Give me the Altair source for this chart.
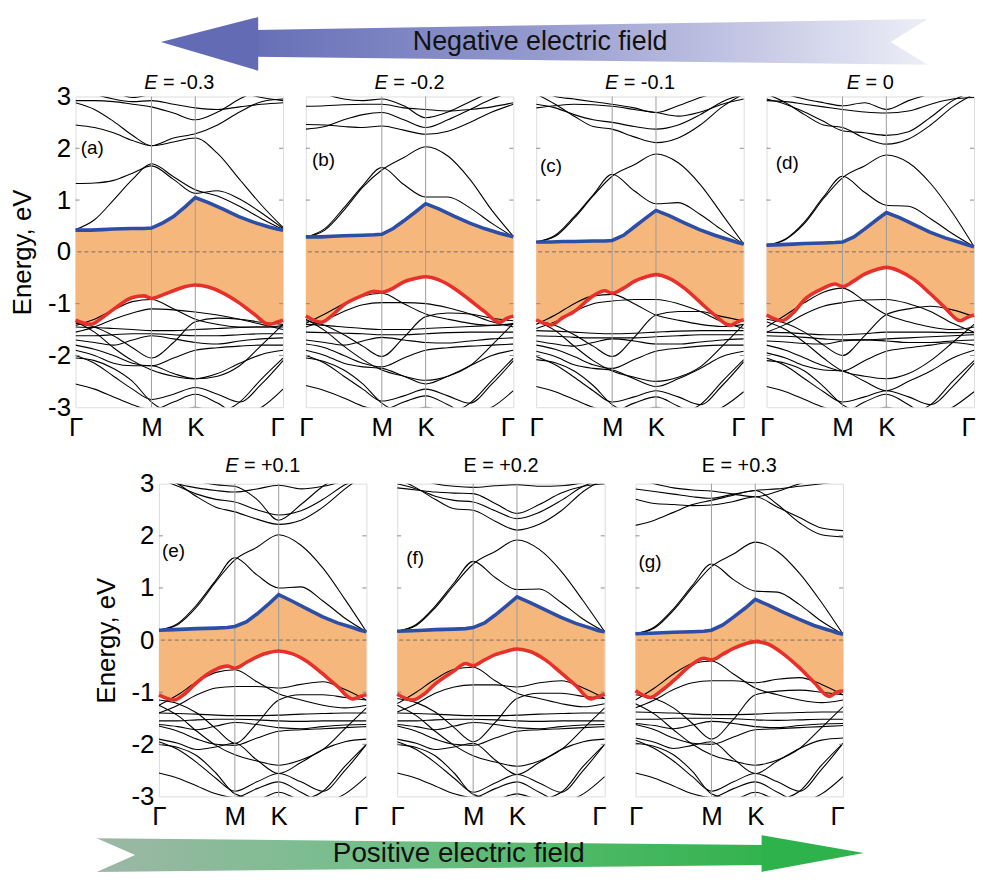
import altair as alt
import pandas as pd

FONT = "Liberation Sans"
ORANGE = "#F6B77D"
BLUE = "#2D4EA6"
RED = "#E8302A"

# k-path: Gamma - M - K - Gamma (hexagonal BZ lengths)
K_BAND = [0.0, 0.25, 0.5, 0.75, 1.0, 1.29, 1.577, 1.87, 2.16, 2.45, 2.732]
K_EDGE = [0.0, 0.2, 0.35, 0.5, 0.75, 0.9, 1.0, 1.15, 1.29, 1.45, 1.577, 1.75, 1.95, 2.15, 2.35, 2.55, 2.65, 2.732]
SYM_K = [0.0, 1.0, 1.577, 2.732]
GRID_K = [1.0, 1.577]
TICK_E = [-2, -1, 1, 2]
Y_TICKS = [-3, -2, -1, 0, 1, 2, 3]

panel_tags = ["(a)", "(b)", "(c)", "(d)", "(e)", "(f)", "(g)"]
field_values = ["-0.3", "-0.2", "-0.1", "0", "+0.1", "+0.2", "+0.3"]
italic_symbol = [True, True, True, True, True, False, False]
tag_k = [0.07, 0.08, 0.05, 0.12, 0.04, 0.12, 0.04]
tag_E = [2.0, 1.77, 1.66, 1.72, 1.70, 1.57, 1.50]

# conduction-band bottom (blue) and valence-band top (red) on K_EDGE
cbm_a = [0.42, 0.42, 0.43, 0.44, 0.45, 0.45, 0.46, 0.56, 0.68, 0.88, 1.05, 0.95, 0.82, 0.68, 0.57, 0.48, 0.44, 0.42]
vbm_a = [-1.32, -1.40, -1.27, -1.11, -0.88, -0.85, -0.90, -0.83, -0.75, -0.67, -0.64, -0.68, -0.80, -0.98, -1.20, -1.40, -1.36, -1.32]
cbm_b = [0.29, 0.29, 0.30, 0.31, 0.32, 0.33, 0.34, 0.45, 0.60, 0.78, 0.93, 0.83, 0.69, 0.56, 0.45, 0.36, 0.32, 0.29]
vbm_b = [-1.24, -1.36, -1.22, -1.02, -0.84, -0.76, -0.78, -0.70, -0.58, -0.51, -0.48, -0.54, -0.70, -0.92, -1.15, -1.36, -1.28, -1.24]
cbm_c = [0.19, 0.19, 0.20, 0.20, 0.21, 0.21, 0.22, 0.32, 0.48, 0.66, 0.80, 0.70, 0.56, 0.43, 0.32, 0.23, 0.18, 0.15]
vbm_c = [-1.31, -1.41, -1.27, -1.15, -0.85, -0.75, -0.80, -0.70, -0.57, -0.48, -0.44, -0.51, -0.70, -0.96, -1.22, -1.42, -1.35, -1.31]
cbm_d = [0.13, 0.14, 0.15, 0.16, 0.17, 0.18, 0.19, 0.29, 0.44, 0.62, 0.76, 0.66, 0.52, 0.38, 0.27, 0.18, 0.13, 0.10]
vbm_d = [-1.22, -1.33, -1.18, -0.92, -0.70, -0.62, -0.67, -0.56, -0.43, -0.34, -0.30, -0.37, -0.54, -0.80, -1.08, -1.33, -1.26, -1.22]
cbm_e = [0.19, 0.20, 0.21, 0.22, 0.23, 0.24, 0.26, 0.35, 0.50, 0.70, 0.87, 0.75, 0.60, 0.45, 0.33, 0.24, 0.19, 0.16]
vbm_e = [-1.05, -1.15, -1.02, -0.81, -0.56, -0.50, -0.54, -0.43, -0.32, -0.24, -0.21, -0.26, -0.41, -0.64, -0.89, -1.13, -1.08, -1.05]
cbm_f = [0.17, 0.18, 0.19, 0.20, 0.21, 0.22, 0.24, 0.33, 0.48, 0.67, 0.83, 0.72, 0.58, 0.44, 0.32, 0.23, 0.18, 0.16]
vbm_f = [-1.04, -1.15, -1.04, -0.84, -0.59, -0.45, -0.49, -0.38, -0.28, -0.21, -0.17, -0.22, -0.38, -0.62, -0.87, -1.13, -1.08, -1.04]
cbm_g = [0.12, 0.13, 0.14, 0.15, 0.16, 0.17, 0.19, 0.29, 0.44, 0.62, 0.78, 0.67, 0.53, 0.40, 0.28, 0.19, 0.14, 0.11]
vbm_g = [-0.97, -1.10, -0.96, -0.78, -0.46, -0.35, -0.38, -0.27, -0.16, -0.07, -0.03, -0.08, -0.27, -0.52, -0.81, -1.08, -1.00, -0.97]

# other bands (black) on K_BAND
bands_a = [
    [0.43, 0.62, 1.00, 1.40, 1.70, 1.45, 1.20, 1.08, 0.88, 0.64, 0.43],
    [1.32, 1.33, 1.38, 1.52, 1.66, 1.40, 1.13, 1.18, 1.02, 0.75, 0.45],
    [2.45, 2.40, 2.30, 2.15, 2.05, 2.12, 2.20, 1.90, 1.40, 0.90, 0.47],
    [2.88, 2.75, 2.52, 2.25, 2.05, 2.20, 2.28, 2.45, 2.70, 2.90, 2.95],
    [2.92, 2.92, 2.90, 2.85, 2.80, 2.68, 2.55, 2.70, 2.95, 3.15, 3.30],
    [3.20, 3.05, 2.95, 2.90, 2.92, 2.85, 2.78, 2.75, 2.80, 2.85, 2.88],
    [3.50, 3.30, 3.10, 2.98, 3.05, 3.20, 3.40, 3.30, 3.10, 2.98, 2.92],
    [-1.42, -1.30, -1.12, -0.96, -0.92, -1.10, -1.30, -1.40, -1.45, -1.45, -1.42],
    [-1.55, -1.45, -1.30, -1.18, -1.10, -1.12, -1.16, -1.22, -1.30, -1.40, -1.50],
    [-1.38, -1.45, -1.62, -1.85, -2.05, -1.75, -1.35, -1.28, -1.30, -1.36, -1.40],
    [-1.45, -1.46, -1.48, -1.50, -1.52, -1.52, -1.50, -1.48, -1.46, -1.45, -1.45],
    [-1.62, -1.62, -1.60, -1.58, -1.58, -1.60, -1.62, -1.62, -1.60, -1.58, -1.58],
    [-1.70, -1.75, -1.80, -1.70, -1.62, -1.68, -1.75, -1.78, -1.72, -1.68, -1.66],
    [-1.80, -1.88, -2.00, -2.15, -2.20, -2.05, -1.90, -1.85, -1.82, -1.80, -1.80],
    [-1.90, -2.00, -2.15, -2.20, -2.20, -2.35, -2.45, -2.35, -2.15, -1.98, -1.90],
    [-2.00, -2.15, -2.40, -2.65, -2.85, -2.75, -2.62, -2.75, -2.90, -2.55, -2.10],
    [-2.05, -2.10, -2.25, -2.50, -2.90, -3.10, -3.00, -3.10, -2.90, -2.45, -2.05],
    [-1.35, -1.55, -1.85, -2.10, -2.28, -2.40, -2.45, -2.40, -2.20, -1.80, -1.40],
    [-2.55, -2.65, -2.80, -2.95, -3.05, -2.90, -2.75, -2.92, -3.15, -3.00, -2.65],
]
bands_b = [
    [0.29, 0.45, 0.85, 1.28, 1.63, 1.30, 1.06, 1.06, 0.85, 0.55, 0.29],
    [0.29, 0.42, 0.80, 1.25, 1.58, 1.82, 2.03, 1.85, 1.40, 0.80, 0.30],
    [2.46, 2.45, 2.42, 2.40, 2.43, 2.35, 2.27, 2.33, 2.50, 2.70, 2.85],
    [2.37, 2.42, 2.55, 2.65, 2.69, 2.55, 2.40, 2.55, 2.75, 2.95, 3.10],
    [2.81, 2.82, 2.84, 2.85, 2.85, 2.78, 2.75, 2.72, 2.75, 2.80, 2.88],
    [3.20, 3.05, 2.95, 2.92, 2.95, 2.82, 2.59, 2.70, 2.90, 3.10, 3.30],
    [-1.38, -1.20, -1.00, -0.85, -0.80, -1.00, -1.20, -1.30, -1.38, -1.42, -1.38],
    [-1.45, -1.32, -1.15, -1.02, -0.98, -0.98, -1.00, -1.08, -1.20, -1.35, -1.45],
    [-1.33, -1.42, -1.60, -1.82, -2.02, -1.65, -1.25, -1.18, -1.20, -1.28, -1.33],
    [-1.40, -1.42, -1.45, -1.48, -1.50, -1.50, -1.48, -1.46, -1.44, -1.42, -1.40],
    [-1.55, -1.56, -1.57, -1.58, -1.60, -1.60, -1.58, -1.56, -1.55, -1.55, -1.55],
    [-1.70, -1.75, -1.80, -1.72, -1.65, -1.70, -1.75, -1.76, -1.72, -1.68, -1.66],
    [-1.78, -1.85, -2.00, -2.15, -2.22, -2.05, -1.90, -1.85, -1.82, -1.80, -1.78],
    [-1.90, -2.00, -2.15, -2.22, -2.25, -2.40, -2.55, -2.40, -2.20, -2.00, -1.90],
    [-2.00, -2.15, -2.40, -2.65, -2.88, -2.78, -2.65, -2.78, -2.92, -2.55, -2.10],
    [-2.05, -2.12, -2.28, -2.55, -2.92, -3.10, -3.00, -3.10, -2.92, -2.48, -2.05],
    [-1.30, -1.52, -1.82, -2.08, -2.28, -2.40, -2.48, -2.40, -2.20, -1.80, -1.38],
    [-2.58, -2.68, -2.82, -2.98, -3.05, -2.90, -2.78, -2.95, -3.15, -3.00, -2.68],
]
bands_c = [
    [0.19, 0.32, 0.68, 1.10, 1.50, 1.18, 0.93, 0.95, 0.72, 0.42, 0.15],
    [0.19, 0.30, 0.65, 1.08, 1.46, 1.68, 1.89, 1.72, 1.30, 0.72, 0.15],
    [3.05, 2.85, 2.62, 2.42, 2.37, 2.22, 2.11, 2.20, 2.45, 2.80, 3.05],
    [2.85, 2.78, 2.65, 2.55, 2.50, 2.42, 2.37, 2.45, 2.65, 2.90, 3.05],
    [2.78, 2.82, 2.85, 2.84, 2.81, 2.75, 2.69, 2.62, 2.70, 2.85, 2.95],
    [3.20, 3.00, 2.95, 2.90, 2.85, 2.78, 2.69, 2.82, 2.98, 3.10, 3.20],
    [-1.40, -1.22, -1.00, -0.85, -0.82, -1.00, -1.22, -1.32, -1.40, -1.44, -1.40],
    [-1.48, -1.35, -1.15, -1.00, -0.95, -0.92, -0.92, -1.00, -1.15, -1.35, -1.48],
    [-1.33, -1.42, -1.60, -1.82, -2.02, -1.65, -1.22, -1.15, -1.15, -1.25, -1.33],
    [-1.52, -1.53, -1.55, -1.57, -1.58, -1.57, -1.55, -1.53, -1.52, -1.52, -1.52],
    [-1.62, -1.63, -1.65, -1.66, -1.66, -1.66, -1.64, -1.62, -1.60, -1.60, -1.60],
    [-1.72, -1.78, -1.82, -1.75, -1.68, -1.72, -1.78, -1.78, -1.74, -1.70, -1.68],
    [-1.80, -1.88, -2.02, -2.18, -2.25, -2.08, -1.92, -1.86, -1.82, -1.80, -1.80],
    [-1.92, -2.02, -2.18, -2.25, -2.28, -2.45, -2.60, -2.45, -2.25, -2.02, -1.92],
    [-2.02, -2.18, -2.42, -2.68, -2.90, -2.80, -2.68, -2.80, -2.95, -2.58, -2.12],
    [-2.08, -2.14, -2.30, -2.58, -2.95, -3.10, -3.00, -3.10, -2.95, -2.50, -2.08],
    [-1.33, -1.52, -1.82, -2.10, -2.30, -2.42, -2.50, -2.42, -2.22, -1.82, -1.40],
    [-2.60, -2.70, -2.85, -3.00, -3.08, -2.92, -2.80, -2.98, -3.15, -3.00, -2.70],
]
bands_d = [
    [0.13, 0.25, 0.58, 1.06, 1.46, 1.15, 0.90, 0.88, 0.64, 0.35, 0.10],
    [0.13, 0.24, 0.55, 1.03, 1.43, 1.66, 1.87, 1.72, 1.32, 0.75, 0.10],
    [3.05, 2.88, 2.65, 2.45, 2.40, 2.20, 2.08, 2.18, 2.45, 2.80, 3.05],
    [2.95, 2.85, 2.70, 2.52, 2.34, 2.30, 2.25, 2.32, 2.60, 2.92, 3.10],
    [2.92, 2.90, 2.85, 2.80, 2.75, 2.70, 2.68, 2.72, 2.85, 2.95, 2.98],
    [3.20, 3.05, 2.95, 2.88, 2.82, 2.88, 2.75, 2.92, 3.05, 3.15, 3.20],
    [-1.45, -1.22, -0.98, -0.78, -0.70, -0.95, -1.21, -1.35, -1.45, -1.50, -1.45],
    [-1.55, -1.40, -1.20, -1.05, -0.98, -0.93, -0.92, -1.00, -1.15, -1.38, -1.55],
    [-1.30, -1.38, -1.55, -1.80, -2.00, -1.62, -1.21, -1.10, -1.05, -1.12, -1.25],
    [-1.62, -1.63, -1.65, -1.68, -1.70, -1.70, -1.68, -1.66, -1.64, -1.62, -1.60],
    [-1.72, -1.74, -1.77, -1.78, -1.72, -1.70, -1.72, -1.75, -1.75, -1.72, -1.70],
    [-1.55, -1.56, -1.58, -1.60, -1.60, -1.58, -1.55, -1.55, -1.55, -1.56, -1.56],
    [-1.80, -1.90, -2.05, -2.20, -2.30, -2.10, -1.92, -1.85, -1.80, -1.75, -1.80],
    [-1.95, -2.05, -2.20, -2.28, -2.30, -2.50, -2.68, -2.50, -2.30, -2.05, -1.90],
    [-2.05, -2.20, -2.45, -2.70, -2.90, -2.80, -2.68, -2.80, -2.95, -2.60, -2.15],
    [-2.10, -2.15, -2.30, -2.60, -2.95, -3.10, -3.00, -3.10, -2.95, -2.50, -2.10],
    [-1.35, -1.50, -1.75, -2.05, -2.30, -2.40, -2.45, -2.35, -2.10, -1.75, -1.40],
    [-2.60, -2.70, -2.85, -3.00, -3.10, -2.90, -2.75, -2.95, -3.20, -3.00, -2.70],
]
bands_e = [
    [0.19, 0.32, 0.68, 1.15, 1.58, 1.25, 1.00, 1.02, 0.75, 0.42, 0.16],
    [0.19, 0.30, 0.64, 1.12, 1.54, 1.78, 2.02, 1.82, 1.38, 0.78, 0.16],
    [3.20, 3.00, 2.75, 2.55, 2.46, 2.32, 2.22, 2.30, 2.55, 2.90, 3.20],
    [3.10, 2.95, 2.80, 2.70, 2.65, 2.50, 2.40, 2.48, 2.70, 2.98, 3.15],
    [3.15, 3.00, 2.92, 2.87, 2.84, 2.90, 2.97, 2.90, 2.95, 3.05, 3.10],
    [3.30, 3.15, 3.05, 2.98, 2.95, 2.70, 2.30, 2.60, 2.95, 3.20, 3.40],
    [-1.25, -1.05, -0.80, -0.62, -0.57, -0.80, -1.03, -1.15, -1.25, -1.30, -1.25],
    [-1.40, -1.25, -1.05, -0.92, -0.89, -0.89, -0.92, -0.85, -0.80, -0.95, -1.15],
    [-1.15, -1.22, -1.40, -1.70, -1.98, -1.60, -1.15, -1.05, -1.05, -1.10, -1.15],
    [-1.40, -1.41, -1.42, -1.44, -1.45, -1.45, -1.44, -1.42, -1.41, -1.40, -1.40],
    [-1.55, -1.55, -1.53, -1.52, -1.52, -1.53, -1.55, -1.56, -1.55, -1.55, -1.55],
    [-1.62, -1.66, -1.72, -1.65, -1.58, -1.62, -1.68, -1.70, -1.66, -1.63, -1.62],
    [-1.65, -1.75, -1.90, -2.00, -2.02, -1.88, -1.75, -1.72, -1.70, -1.68, -1.66],
    [-1.90, -1.98, -2.10, -2.05, -1.98, -2.30, -2.56, -2.35, -2.10, -1.95, -1.90],
    [-1.95, -2.10, -2.35, -2.65, -2.90, -2.72, -2.56, -2.72, -2.90, -2.50, -2.00],
    [-2.00, -2.06, -2.22, -2.55, -2.95, -3.05, -2.92, -3.05, -2.90, -2.42, -2.00],
    [-1.25, -1.45, -1.75, -2.02, -2.20, -2.32, -2.40, -2.30, -2.10, -1.70, -1.30],
    [-2.55, -2.65, -2.80, -2.95, -3.02, -2.85, -2.72, -2.92, -3.10, -2.95, -2.62],
]
bands_f = [
    [0.17, 0.30, 0.65, 1.10, 1.51, 1.20, 0.97, 0.98, 0.72, 0.40, 0.16],
    [0.17, 0.28, 0.62, 1.06, 1.46, 1.70, 1.92, 1.74, 1.32, 0.75, 0.16],
    [3.10, 2.92, 2.70, 2.52, 2.49, 2.28, 2.11, 2.22, 2.48, 2.85, 3.10],
    [3.00, 2.90, 2.76, 2.68, 2.65, 2.48, 2.33, 2.45, 2.68, 2.95, 3.10],
    [2.92, 2.88, 2.84, 2.82, 2.81, 2.62, 2.43, 2.60, 2.82, 2.95, 3.00],
    [3.20, 3.10, 3.00, 2.95, 2.93, 2.96, 2.98, 2.95, 2.96, 3.02, 3.10],
    [-1.22, -1.00, -0.75, -0.56, -0.52, -0.78, -1.02, -1.12, -1.22, -1.28, -1.22],
    [-1.38, -1.22, -1.02, -0.90, -0.86, -0.86, -0.90, -0.82, -0.78, -0.92, -1.12],
    [-1.12, -1.20, -1.38, -1.68, -1.95, -1.58, -1.12, -1.02, -1.02, -1.08, -1.12],
    [-1.40, -1.41, -1.42, -1.44, -1.45, -1.45, -1.44, -1.42, -1.41, -1.40, -1.40],
    [-1.55, -1.55, -1.53, -1.52, -1.52, -1.53, -1.55, -1.56, -1.55, -1.55, -1.55],
    [-1.62, -1.66, -1.72, -1.65, -1.58, -1.62, -1.68, -1.70, -1.66, -1.63, -1.62],
    [-1.65, -1.75, -1.90, -2.00, -2.02, -1.88, -1.75, -1.72, -1.70, -1.68, -1.66],
    [-1.90, -1.98, -2.10, -2.05, -1.98, -2.30, -2.58, -2.35, -2.10, -1.95, -1.90],
    [-1.95, -2.10, -2.35, -2.65, -2.92, -2.74, -2.58, -2.74, -2.92, -2.50, -2.00],
    [-2.00, -2.06, -2.22, -2.55, -2.96, -3.05, -2.95, -3.05, -2.92, -2.42, -2.00],
    [-1.25, -1.45, -1.75, -2.02, -2.22, -2.34, -2.42, -2.32, -2.10, -1.70, -1.30],
    [-2.55, -2.65, -2.80, -2.95, -3.02, -2.85, -2.72, -2.92, -3.10, -2.95, -2.62],
]
bands_g = [
    [0.12, 0.25, 0.60, 1.05, 1.46, 1.16, 0.94, 0.92, 0.68, 0.36, 0.11],
    [0.12, 0.23, 0.57, 1.01, 1.41, 1.65, 1.88, 1.70, 1.28, 0.72, 0.11],
    [2.20, 2.30, 2.45, 2.60, 2.68, 2.78, 2.87, 2.60, 2.25, 2.02, 1.98],
    [2.70, 2.62, 2.60, 2.58, 2.59, 2.66, 2.75, 2.55, 2.35, 2.15, 2.10],
    [2.90, 2.85, 2.80, 2.75, 2.72, 2.80, 2.87, 2.90, 2.95, 3.00, 3.05],
    [3.10, 3.00, 2.92, 2.88, 2.86, 2.80, 2.75, 2.85, 3.00, 3.10, 3.15],
    [-1.15, -0.92, -0.65, -0.45, -0.40, -0.65, -0.92, -1.05, -1.15, -1.20, -1.15],
    [-1.30, -1.15, -0.95, -0.82, -0.78, -0.78, -0.82, -0.75, -0.72, -0.85, -1.05],
    [-1.05, -1.12, -1.30, -1.60, -1.90, -1.52, -1.05, -0.98, -0.96, -1.00, -1.05],
    [-1.38, -1.39, -1.40, -1.42, -1.43, -1.43, -1.42, -1.40, -1.39, -1.38, -1.38],
    [-1.52, -1.52, -1.50, -1.50, -1.50, -1.51, -1.53, -1.54, -1.53, -1.52, -1.52],
    [-1.60, -1.64, -1.70, -1.63, -1.56, -1.60, -1.66, -1.68, -1.64, -1.61, -1.60],
    [-1.62, -1.72, -1.88, -1.98, -2.00, -1.86, -1.72, -1.70, -1.68, -1.66, -1.64],
    [-1.88, -1.96, -2.08, -2.02, -1.95, -2.28, -2.56, -2.32, -2.08, -1.92, -1.88],
    [-1.92, -2.08, -2.32, -2.62, -2.90, -2.72, -2.56, -2.72, -2.90, -2.48, -1.98],
    [-1.98, -2.04, -2.20, -2.52, -2.95, -3.05, -2.92, -3.05, -2.90, -2.40, -1.98],
    [-1.22, -1.42, -1.72, -2.00, -2.20, -2.32, -2.40, -2.30, -2.08, -1.68, -1.28],
    [-2.55, -2.65, -2.80, -2.95, -3.02, -2.85, -2.72, -2.92, -3.10, -2.95, -2.62],
]

CBM = [cbm_a, cbm_b, cbm_c, cbm_d, cbm_e, cbm_f, cbm_g]
VBM = [vbm_a, vbm_b, vbm_c, vbm_d, vbm_e, vbm_f, vbm_g]
BANDS = [bands_a, bands_b, bands_c, bands_d, bands_e, bands_f, bands_g]

# decorative arrows, outlines in page pixels: (x list, upper edge, lower edge)
top_head = ([160, 258], [38, 13], [38, 67])
top_body = ([252, 932], [26, 15], [53, 61])
top_notch = ([895, 934], [38, 14], [38, 62])
bot_body = ([95, 772], [843, 850], [877, 870])
bot_head = ([765, 868], [840, 858], [877, 858])
bot_notch = ([93, 134], [842, 860], [878, 860])

CW = {"E": 0.667, " ": 0.278, "=": 0.584, "-": 0.333, "+": 0.584, "0": 0.556,
      ".": 0.278, "1": 0.556, "2": 0.556, "3": 0.556}


def text_w(s, size):
    return sum(CW.get(c, 0.556) for c in s) * size


def panel(i, w, h, first, title_y):
    xs = alt.Scale(domain=[0, 2.732], nice=False, zero=False)
    ys = alt.Scale(domain=[-3, 3], nice=False, zero=False)
    xax = alt.Axis(values=SYM_K,
                   labelExpr="datum.value < 0.5 || datum.value > 2.7 ? 'Γ' : (datum.value < 1.2 ? 'M' : 'K')",
                   ticks=False, tickSize=0, domain=False, grid=False, labelFontSize=26,
                   labelFont=FONT, labelColor="black", labelPadding=7, labelFlush=False,
                   labelOverlap=False,
                   labelOffset={"condition": {"test": "datum.value > 2.7", "value": -6}, "value": 0})
    if first:
        yax = alt.Axis(values=Y_TICKS,
                       labelExpr="datum.value < 0 ? '-' + (-datum.value) : '' + datum.value",
                       ticks=False, tickSize=0, domain=False, grid=False, labelFontSize=26,
                       labelFont=FONT, labelColor="black", labelPadding=5,
                       title="Energy, eV", titleFontSize=26, titleFont=FONT,
                       titleFontWeight="normal", titleColor="black", titlePadding=12)
        Y = lambda f="E:Q": alt.Y(f, scale=ys, axis=yax)
    else:
        Y = lambda f="E:Q": alt.Y(f, scale=ys, axis=None)
    X = lambda: alt.X("k:Q", scale=xs, axis=xax, title=None)

    edge_df = pd.DataFrame({"k": K_EDGE, "E": VBM[i], "E2": CBM[i]})
    blue_df = pd.DataFrame({"k": K_EDGE, "E": CBM[i]})
    red_df = pd.DataFrame({"k": K_EDGE, "E": VBM[i]})
    rows = []
    for j, b in enumerate(BANDS[i]):
        for k, e in zip(K_BAND, b):
            rows.append({"k": k, "E": e, "band": j})
    band_df = pd.DataFrame(rows)

    area = alt.Chart(edge_df).mark_area(color=ORANGE, interpolate="monotone").encode(
        x=X(), y=Y(), y2="E2:Q")
    bands = alt.Chart(band_df).mark_line(color="black", strokeWidth=1.1, interpolate="monotone",
                                         clip=True).encode(x=X(), y=Y(), detail="band:N")
    grid = alt.Chart(pd.DataFrame({"k": GRID_K})).mark_rule(color="#9c9c9c", strokeWidth=1).encode(x=X())
    zero = alt.Chart(pd.DataFrame({"E": [0]})).mark_rule(color="#5a5a5a", strokeWidth=0.8,
                                                         strokeDash=[4, 3]).encode(y=Y())
    tl = alt.Chart(pd.DataFrame({"E": TICK_E})).mark_rule(color="#8a8a8a").encode(
        y=Y(), x=alt.value(0), x2=alt.value(4))
    tr = alt.Chart(pd.DataFrame({"E": TICK_E})).mark_rule(color="#8a8a8a").encode(
        y=Y(), x=alt.value(w - 4), x2=alt.value(w))
    blue = alt.Chart(blue_df).mark_line(color=BLUE, strokeWidth=3.6, interpolate="linear").encode(x=X(), y=Y())
    red = alt.Chart(red_df).mark_line(color=RED, strokeWidth=3.6, interpolate="monotone").encode(x=X(), y=Y())
    tag = alt.Chart(pd.DataFrame({"k": [tag_k[i]], "E": [tag_E[i]], "t": [panel_tags[i]]})).mark_text(
        font=FONT, fontSize=19, align="left", baseline="middle", color="black").encode(
        x=X(), y=Y(), text="t:N")

    fs = 20
    rest = "= " + field_values[i]
    total = text_w("E " + rest, fs)
    x0 = w / 2 - total / 2
    x1 = x0 + text_w("E ", fs)
    layers = [area, bands, grid, zero, tl, tr, blue, red, tag]
    t1 = alt.Chart(pd.DataFrame({"t": ["E"]})).mark_text(
        font=FONT, fontSize=fs, fontStyle="italic" if italic_symbol[i] else "normal",
        align="left", baseline="alphabetic",
        color="black").encode(x=alt.value(x0), y=alt.value(title_y), text="t:N")
    t2 = alt.Chart(pd.DataFrame({"t": [rest]})).mark_text(
        font=FONT, fontSize=fs, align="left", baseline="alphabetic",
        color="black").encode(x=alt.value(x1), y=alt.value(title_y), text="t:N")
    layers += [t1, t2]
    return alt.layer(*layers).properties(width=w, height=h)


def spacer(w, h):
    return alt.Chart(pd.DataFrame({"v": [0]})).mark_rule(opacity=0, strokeWidth=0).encode(
        x=alt.value(0), x2=alt.value(w), y=alt.value(0), y2=alt.value(h)).properties(
        width=w, height=h, view=alt.ViewBackground(stroke="transparent"))


XDOM = [74, 970]


def piece(part, ydom, fill):
    xs_, ya, yb = part
    df = pd.DataFrame({"x": xs_, "ya": ya, "yb": yb})
    return alt.Chart(df).mark_area(color=fill).encode(
        x=alt.X("x:Q", scale=alt.Scale(domain=XDOM, nice=False, zero=False), axis=None),
        y=alt.Y("ya:Q", scale=alt.Scale(domain=ydom, nice=False, zero=False, reverse=True), axis=None),
        y2="yb:Q")


def grad(stops):
    return alt.Gradient(gradient="linear",
                        stops=[alt.GradientStop(offset=o, color=c) for o, c in stops],
                        x1=0, x2=1, y1=0, y2=0)


def arrow(parts, ydom, height, text, tx, ty, fsize):
    layers = [piece(p, ydom, f) for p, f in parts]
    lab = alt.Chart(pd.DataFrame({"x": [tx], "y": [ty], "t": [text]})).mark_text(
        font=FONT, fontSize=fsize, color="#111111").encode(
        x=alt.X("x:Q", scale=alt.Scale(domain=XDOM, nice=False, zero=False), axis=None),
        y=alt.Y("y:Q", scale=alt.Scale(domain=ydom, nice=False, zero=False, reverse=True), axis=None),
        text="t:N")
    return alt.layer(*layers, lab).properties(width=XDOM[1] - XDOM[0], height=height,
                                              view=alt.ViewBackground(stroke="transparent"))


top_arrow = arrow([(top_body, grad([(0, "#666EB6"), (0.4, "#9297CD"), (1, "#EDEEF7")])),
                   (top_head, "#636BB4"),
                   (top_notch, "white")],
                  [10, 67], 57, "Negative electric field", 542, 38, 27)
bot_arrow = arrow([(bot_body, grad([(0, "#9DB7A6"), (0.4, "#74BE8A"), (0.75, "#4BB864"), (1, "#31B34D")])),
                   (bot_head, "#2EB34C"),
                   (bot_notch, "white")],
                  [840, 877], 37, "Positive electric field", 460, 859, 28)

PW = 209
row1 = alt.hconcat(panel(0, PW, 313, True, -8), panel(1, PW, 313, False, -8),
                   panel(2, PW, 313, False, -8), panel(3, PW, 313, False, -8),
                   spacing=23, bounds="flush")
row2 = alt.hconcat(spacer(53, 10), panel(4, PW, 315, True, -12), panel(5, PW, 315, False, -12),
                   panel(6, PW, 315, False, -12), spacing=31, bounds="flush")

chart = alt.vconcat(top_arrow, row1, spacer(10, 12), row2, spacer(10, 2), bot_arrow,
                    spacing=0).properties(
    padding={"left": 1, "top": 2, "right": 0, "bottom": 0}
).configure_view(stroke="#808080", strokeWidth=1).configure(font=FONT)

chart.save("out.html", embed_options={"renderer": "svg", "actions": False})
